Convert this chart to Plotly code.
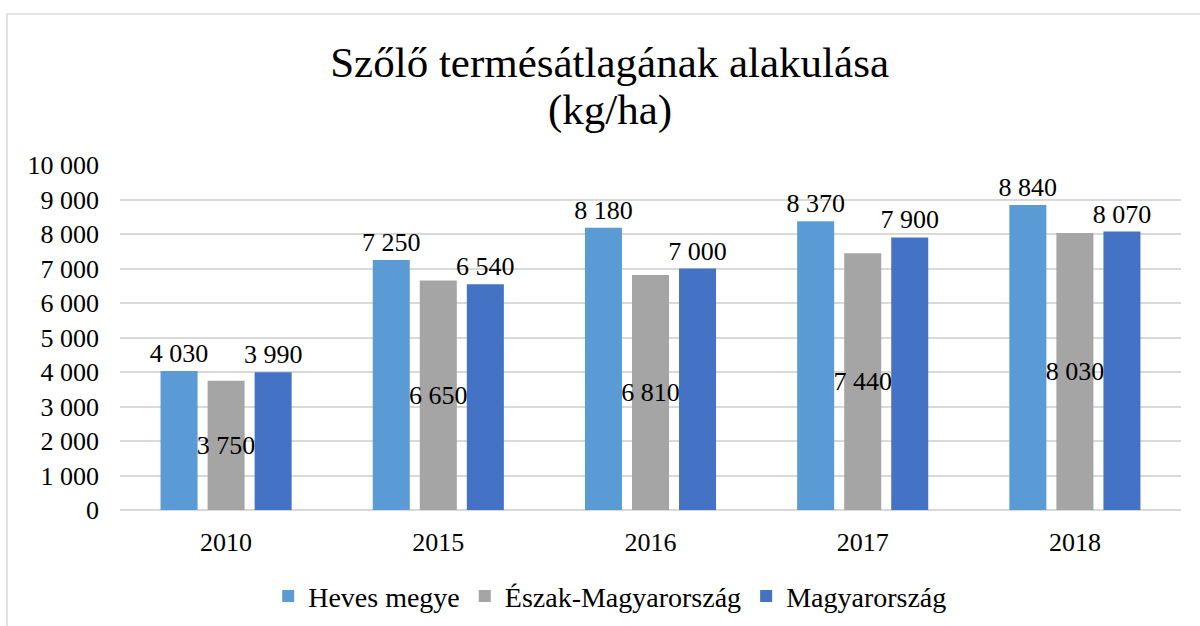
import plotly.graph_objects as go

years = ["2010", "2015", "2016", "2017", "2018"]
heves = [4030, 7250, 8180, 8370, 8840]
eszak = [3750, 6650, 6810, 7440, 8030]
magyar = [3990, 6540, 7000, 7900, 8070]
series_names = ["Heves megye", "Észak-Magyarország", "Magyarország"]
colors = ["#5B9BD5", "#A5A5A5", "#4472C4"]
y_ticks = [0, 1000, 2000, 3000, 4000, 5000, 6000, 7000, 8000, 9000, 10000]
title_line1 = "Szőlő termésátlagának alakulása"
title_line2 = "(kg/ha)"

FONT = "Liberation Serif"

fig = go.Figure()
for name, vals, col, pos in zip(series_names, [heves, eszak, magyar], colors,
                                ["outside", "inside", "outside"]):
    fig.add_trace(go.Bar(
        x=years, y=vals, name=name, marker=dict(color=col, line=dict(width=0)),
        texttemplate="%{y:,d}", textposition=pos, insidetextanchor="middle",
        textangle=0, constraintext="none", cliponaxis=False,
        textfont=dict(family=FONT, size=26, color="black"),
        insidetextfont=dict(family=FONT, size=26, color="black"),
        outsidetextfont=dict(family=FONT, size=26, color="black"),
    ))

fig.update_layout(
    width=1200, height=626,
    margin=dict(l=120, r=19, t=165, b=116, autoexpand=False),
    paper_bgcolor="white", plot_bgcolor="white",
    separators=", ",
    barmode="group", bargap=0.335, bargroupgap=0.213,
    font=dict(family=FONT, size=26, color="black"),
    title=dict(text=title_line1,
               x=0.508, xanchor="center", xref="container",
               y=1 - 62 / 626, yanchor="middle", yref="container",
               font=dict(family=FONT, size=43, color="black")),
    legend=dict(orientation="h", x=0.462, xanchor="center", y=-0.25,
                yanchor="middle", font=dict(family=FONT, size=28, color="black"),
                itemwidth=30, traceorder="normal"),
    showlegend=True,
)
fig.add_annotation(text=title_line2, xref="paper", yref="paper",
                   x=(610 - 120) / 1061, y=(510 - 110) / 345,
                   xanchor="center", yanchor="middle", showarrow=False,
                   font=dict(family=FONT, size=43, color="black"))
fig.update_yaxes(range=[0, 10000], tickvals=y_ticks, tickformat=",d",
                 automargin=False,
                 showgrid=True, gridcolor="#D9D9D9", gridwidth=1.5,
                 zeroline=True, zerolinecolor="#D9D9D9", zerolinewidth=1.5,
                 showline=False, ticks="", ticklabelstandoff=20,
                 tickfont=dict(family=FONT, size=26, color="black"))
fig.update_xaxes(showgrid=False, showline=False, ticks="", ticklabelstandoff=14,
                 automargin=False,
                 tickfont=dict(family=FONT, size=26, color="black"))

fig.add_shape(type="rect", xref="paper", yref="paper",
              x0=(7 - 120) / 1061, x1=(1230 - 120) / 1061,
              y0=(510 - 660) / 345, y1=(510 - 14) / 345,
              line=dict(color="#D9D9D9", width=1.5), fillcolor="rgba(0,0,0,0)",
              layer="below")

fig.write_html("out.html", config={"displayModeBar": False},
               post_script="document.body.style.margin='0';document.body.style.overflow='hidden';")
